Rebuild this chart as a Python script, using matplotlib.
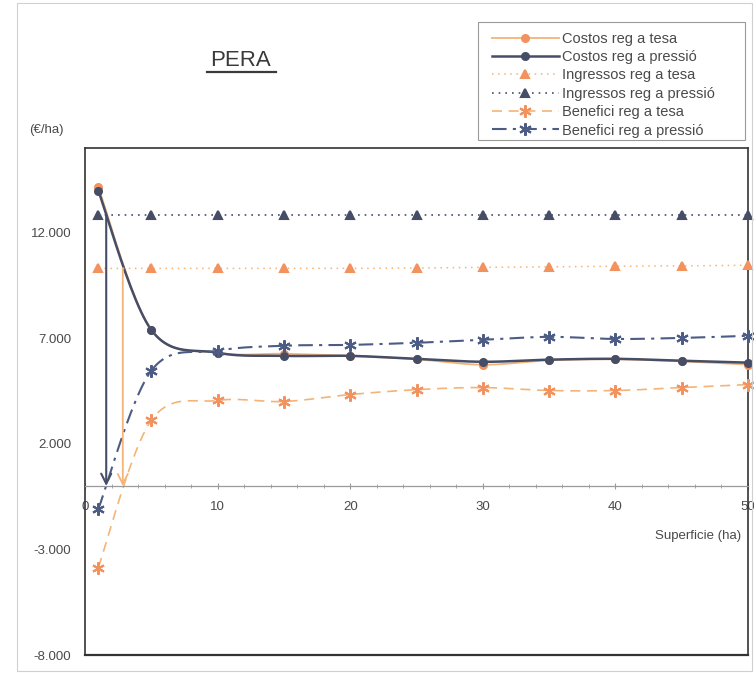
import matplotlib.pyplot as plt
import numpy as np
from matplotlib.ticker import FuncFormatter, MultipleLocator
from matplotlib.lines import Line2D
from matplotlib.patches import Rectangle

plt.rcParams['font.family'] = ['Liberation Sans', 'DejaVu Sans']

superficie = [1, 5, 10, 15, 20, 25, 30, 35, 40, 45, 50]

costos_tesa = [14160, 7390, 6310, 6260, 6160, 6000, 5740, 5950, 6000, 5900, 5750]
costos_pressio = [13980, 7390, 6310, 6160, 6160, 6020, 5880, 5980, 6020, 5930, 5840]
ingressos_tesa = [10300, 10300, 10300, 10300, 10300, 10320, 10350, 10380, 10400, 10420, 10450]
ingressos_pressio = [12850, 12850, 12850, 12850, 12850, 12850, 12850, 12850, 12850, 12850, 12850]
benefici_tesa = [-3860, 3110, 4050, 4000, 4330, 4560, 4660, 4520, 4520, 4660, 4800]
benefici_pressio = [-1100, 5460, 6400, 6640, 6680, 6780, 6920, 7060, 6960, 7010, 7110]

# punts d'equilibri (llindar de rendibilitat)
llindar_tesa = 2.85
llindar_pressio = 1.6

labels = ["Costos reg a tesa", "Costos reg a pressió", "Ingressos reg a tesa",
          "Ingressos reg a pressió", "Benefici reg a tesa", "Benefici reg a pressió"]

ORANGE = '#f2935f'
ORANGE_LINE = '#f4b477'
DARK = '#464d66'
BLUE = '#4d5c85'
TEXT = '#4a4a4a'


def smooth(x, y, n=25):
    # catmull-rom, like excel smoothed lines
    pts = np.column_stack([x, y]).astype(float)
    p = np.vstack([pts[0], pts, pts[-1]])
    t = np.linspace(0, 1, n)[:, None]
    out = []
    for i in range(1, len(p) - 2):
        p0, p1, p2, p3 = p[i - 1], p[i], p[i + 1], p[i + 2]
        c = 0.5 * (2 * p1 + (-p0 + p2) * t + (2 * p0 - 5 * p1 + 4 * p2 - p3) * t ** 2
                   + (-p0 + 3 * p1 - 3 * p2 + p3) * t ** 3)
        out.append(c)
    c = np.vstack(out)
    return c[:, 0], c[:, 1]


fig = plt.figure(figsize=(7.54, 6.75), dpi=100)
ax = fig.add_axes([85 / 754, 20 / 675, 663 / 754, 507 / 675])

series = [
    (costos_tesa, dict(color=ORANGE_LINE, lw=1.3, ls='-'), dict(marker='o', color=ORANGE, ms=5)),
    (costos_pressio, dict(color=DARK, lw=1.8, ls='-'), dict(marker='o', color=DARK, ms=5)),
    (ingressos_tesa, dict(color=ORANGE_LINE, lw=1.1, ls=(0, (1, 3))), dict(marker='^', color=ORANGE, ms=6)),
    (ingressos_pressio, dict(color=DARK, lw=1.2, ls=(0, (1, 3))), dict(marker='^', color=DARK, ms=6)),
    (benefici_tesa, dict(color=ORANGE_LINE, lw=1.2, ls=(0, (6, 4))), dict(marker=(6, 2, 0), color=ORANGE, ms=9)),
    (benefici_pressio, dict(color=BLUE, lw=1.5, ls=(0, (7, 3, 1.5, 3))), dict(marker=(6, 2, 0), color=BLUE, ms=9)),
]

handles = []
for (vals, lstyle, mstyle), lab in zip(series, labels):
    sx, sy = smooth(superficie, vals)
    ax.plot(sx, sy, zorder=2, **lstyle)
    ax.plot(superficie, vals, ls='none', marker=mstyle['marker'], color=mstyle['color'],
            ms=mstyle['ms'], mew=1.5, zorder=3, clip_on=False)
    handles.append(Line2D([], [], marker=mstyle['marker'], markerfacecolor=mstyle['color'],
                          markeredgecolor=mstyle['color'], ms=mstyle['ms'], mew=1.5, **lstyle))

# fletxes del llindar
ax.annotate('', xy=(llindar_pressio, 0), xytext=(llindar_pressio, ingressos_pressio[0]),
            arrowprops=dict(arrowstyle='->', color=DARK, lw=1.5, mutation_scale=18,
                            shrinkA=0, shrinkB=0))
ax.annotate('', xy=(llindar_tesa, 0), xytext=(llindar_tesa, ingressos_tesa[0]),
            arrowprops=dict(arrowstyle='->', color=ORANGE_LINE, lw=1.3, mutation_scale=18,
                            shrinkA=0, shrinkB=0))

ax.set_xlim(0, 50)
ax.set_ylim(-8000, 16000)
ax.set_yticks([-8000, -3000, 2000, 7000, 12000])
ax.yaxis.set_major_formatter(FuncFormatter(lambda v, p: f"{int(v):,}".replace(',', '.')))
ax.xaxis.set_major_locator(MultipleLocator(10))
ax.xaxis.set_minor_locator(MultipleLocator(2))

# eix x creuant a zero
ax.spines['bottom'].set_position(('data', 0))
ax.spines['bottom'].set_color('#9a9a9a')
ax.spines['bottom'].set_linewidth(0.9)
for s in ['left', 'right', 'top']:
    ax.spines[s].set_color('#333333')
    ax.spines[s].set_linewidth(1.2)
ax.axhline(-8000, color='#333333', lw=1.6, clip_on=False, zorder=5)

ax.tick_params(axis='y', length=0, pad=10, labelsize=9.5, labelcolor=TEXT)
ax.tick_params(axis='x', which='major', length=4, direction='inout', color='#9a9a9a',
               pad=9, labelsize=9.5, labelcolor=TEXT)
ax.tick_params(axis='x', which='minor', length=3, direction='inout', color='#9a9a9a')

ax.text(0.99, -2350, "Superficie (ha)", transform=ax.get_yaxis_transform(),
        ha='right', va='center', fontsize=9.5, color=TEXT)
fig.text(46 / 754, 1 - 130 / 675, "(€/ha)", ha='center', va='center', fontsize=9.5, color=TEXT)

# títol subratllat
fig.text(241 / 754, 1 - 60 / 675, "PERA", ha='center', va='center', fontsize=16, color='#3a3a3a')
fig.add_artist(Line2D([207 / 754, 276 / 754], [1 - 72 / 675, 1 - 72 / 675], color='#3a3a3a', lw=1.6))

leg = fig.legend(handles, labels, loc='upper left', bbox_to_anchor=(480 / 754, 1 - 20 / 675),
                 fontsize=10.5, handlelength=4.6, handletextpad=0.2, labelspacing=0.3,
                 borderpad=0.3, frameon=False, labelcolor=TEXT)
fig.add_artist(Rectangle((478 / 754, 1 - 140 / 675), 267 / 754, 118 / 675,
                         transform=fig.transFigure, fill=False, edgecolor='#9a9a9a', lw=0.8))

fig.add_artist(Rectangle((17 / 754, 4 / 675), 735 / 754, 668 / 675, transform=fig.transFigure,
                         fill=False, edgecolor='#d0d0d0', lw=0.8))

fig.savefig("out.png", dpi=100)
